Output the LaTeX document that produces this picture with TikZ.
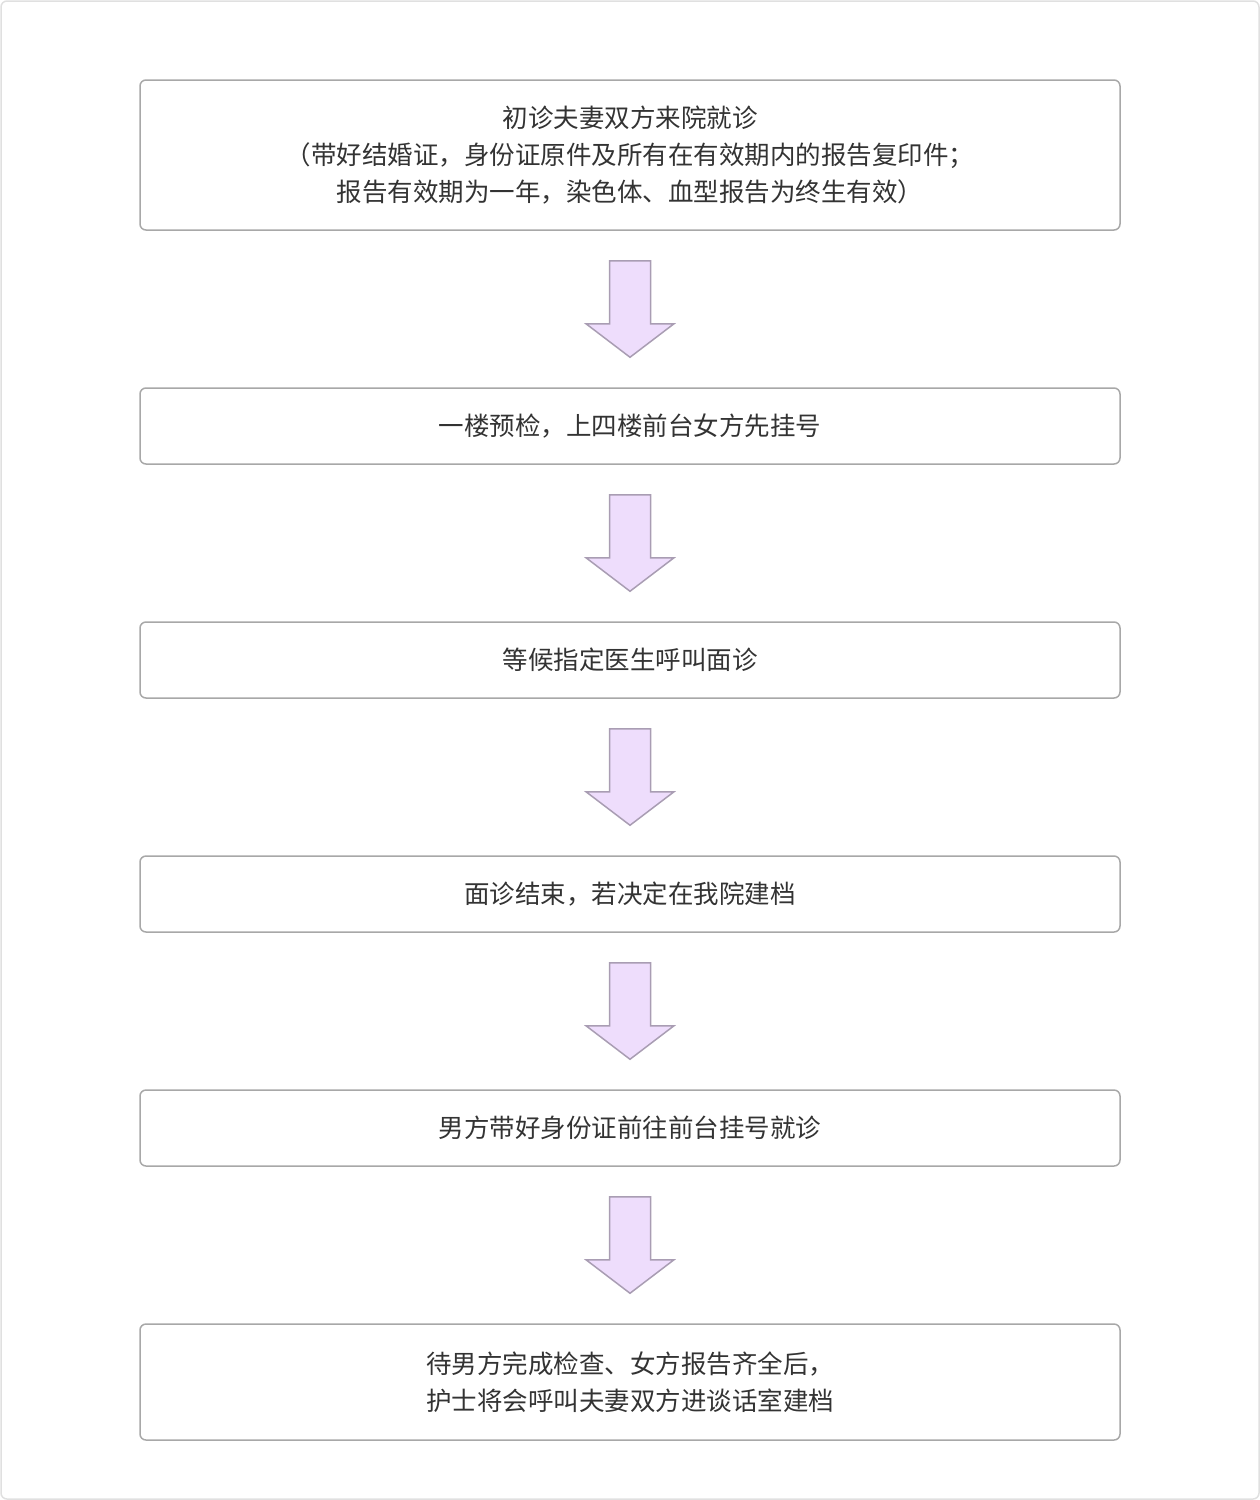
\documentclass[tikz,border=0pt]{standalone}
\usepackage{fontspec}
\setmainfont{Noto Sans CJK SC}
\usetikzlibrary{calc}
\definecolor{txtgray}{HTML}{333333}
\definecolor{boxgray}{HTML}{A8A8A8}
\definecolor{arrowfill}{HTML}{EEDDFC}
\definecolor{arrowline}{HTML}{A99DB3}
\tikzset{
  stepbox/.style={draw=boxgray,line width=1.5pt,rounded corners=6pt,minimum width=980pt,align=center,
    text=txtgray,font=\fontsize{25.5pt}{37pt}\selectfont,inner sep=0pt},
  downarrow/.style={draw=arrowline,fill=arrowfill,line width=1.5pt,line join=miter}
}
\newcommand{\flowarrow}[2]{%
  \draw[downarrow] ($(#1.south)+(-20.5,30)$) -- ($(#1.south)+(20.5,30)$) -- ($(#1.south)+(20.5,93)$)
    -- ($(#1.south)+(44,93)$) -- ($(#2.north)+(0,-30)$) -- ($(#1.south)+(-44,93)$)
    -- ($(#1.south)+(-20.5,93)$) -- cycle;}
\begin{document}
\begin{tikzpicture}[x=1pt,y=-1pt]
    \useasboundingbox (0,0) rectangle (1260,1500);
    \draw[draw=black!12,line width=1.5pt,rounded corners=6pt] (1,1) rectangle (1259,1499);

    \node[stepbox,minimum height=150pt] (first) at (630,155) {初诊夫妻双方来院就诊\\（带好结婚证，身份证原件及所有在有效期内的报告复印件；\\报告有效期为一年，染色体、血型报告为终生有效）};
    \node[stepbox,minimum height=76pt] (register) at (630,426) {一楼预检，上四楼前台女方先挂号};
    \node[stepbox,minimum height=76pt] (wait) at (630,660) {等候指定医生呼叫面诊};
    \node[stepbox,minimum height=76pt] (decide) at (630,894) {面诊结束，若决定在我院建档};
    \node[stepbox,minimum height=76pt] (male) at (630,1128) {男方带好身份证前往前台挂号就诊};
    \node[stepbox,minimum height=116pt] (file) at (630,1382) {待男方完成检查、女方报告齐全后，\\护士将会呼叫夫妻双方进谈话室建档};

    % arrows between steps
    \flowarrow{first}{register}
    \flowarrow{register}{wait}
    \flowarrow{wait}{decide}
    \flowarrow{decide}{male}
    \flowarrow{male}{file}
\end{tikzpicture}
\end{document}
